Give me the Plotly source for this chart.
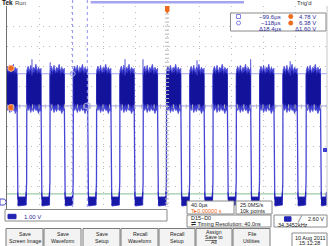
import numpy as np
import plotly.graph_objects as go

# ---------------- data ----------------
# time in microseconds (40 us/div, trigger at centre), voltage in volts (1.00 V/div)
rise_us = [-175.2, -146.1, -117.0, -87.9, -58.8, -29.6, -0.5, 28.6, 57.7, 86.8, 115.9, 145.0, 174.1]
fall_us = [-187.4, -157.4, -128.3, -99.2, -70.1, -41.0, -11.8, 17.3, 46.4, 75.5, 104.6, 133.7, 162.8, 191.9]

# noisy high-level envelope of one pulse (V), read at evenly spaced points across a pulse
band_top = [6.55, 6.75, 6.5, 6.8, 6.45, 6.7, 6.6, 6.85, 6.5, 6.7, 6.55, 6.65]
band_bot = [4.75, 4.55, 4.7, 4.45, 4.65, 4.5, 4.7, 4.55, 4.6, 4.4, 4.6, 4.5]
core_top = [6.35, 6.5, 6.3, 6.55, 6.35, 6.45, 6.4, 6.55, 6.3, 6.45, 6.4, 6.35]
core_bot = [4.95, 4.8, 4.9, 4.75, 4.85, 4.8, 4.9, 4.8, 4.85, 4.7, 4.85, 4.8]

spike_us = [-168.8, -146.0, -52.5, -30.0, 37.5, 104.6, 154.0]
spike_top_v = [7.1, 6.95, 7.1, 7.1, 7.05, 7.1, 7.0]

low_level_v = 0.15
green_ref_v = 0.4
cursor_t_us = [-99.6, -118.0]
cursor_v = [4.78, 6.38]
trig_level_v = 2.60

x_range = [-200, 200]
y_range = [-0.25, 9.75]

# ---------------- geometry helpers (pixel -> paper) ----------------
W, H = 328, 246
L, R, T, B = 7, 327, 6, 207


def PX(x):
    return (x - L) / (R - L)


def PY(y):
    return (B - y) / (B - T)


FONT = "Liberation Sans"
BLUE_TXT = "#2c2c9a"
ORANGE = "#ee6a1e"
LAV = "#a4a4f0"

fig = go.Figure()

# green reference line
fig.add_trace(go.Scatter(x=x_range, y=[green_ref_v, green_ref_v], mode="lines",
                         line=dict(color="#9ccaa8", width=1.2), hoverinfo="skip"))

highs = [(x_range[0], fall_us[0])] + list(zip(rise_us, fall_us[1:]))
lows = list(zip(fall_us, rise_us + [x_range[1]]))


def polys(top, bot):
    xs, ys = [], []
    for a, b in highs:
        n = len(top)
        t = list(np.linspace(a, b, n))
        xs += t + t[::-1] + [t[0], None]
        ys += list(top) + list(bot)[::-1] + [top[0], None]
    return xs, ys


# edges / U-shaped lows
ex, ey = [], []
for f, r in lows:
    ex += [f, f + 0.25, f + 1.0]
    ey += [core_bot[-1], 1.0, low_level_v]
    if r < x_range[1]:
        ex += [r - 1.0, r - 0.25, r]
        ey += [low_level_v, 1.0, core_top[0]]
    else:
        ex += [r]
        ey += [low_level_v]
    ex.append(None)
    ey.append(None)
fig.add_trace(go.Scatter(x=ex, y=ey, mode="lines", line=dict(color="#4646d4", width=1.3),
                         hoverinfo="skip"))

# dense bottoms of the lows
lx, ly = [], []
for f, r in lows:
    r2 = min(r - 0.7, x_range[1])
    lx += [f + 0.6, f + 1.4, r2 - 0.8, r2, r2, f + 1.4, f + 0.6, None]
    ly += [0.5, 0.25, 0.25, 0.5, -0.15, -0.2, -0.1, None]
fig.add_trace(go.Scatter(x=lx, y=ly, mode="lines", fill="toself", fillcolor="#1818a6",
                         line=dict(color="#2a2ac0", width=0.8), hoverinfo="skip"))

# high band outer and core
bx, by = polys(band_top, band_bot)
fig.add_trace(go.Scatter(x=bx, y=by, mode="lines", fill="toself", fillcolor="#3a3acc",
                         line=dict(color="#4c4cd8", width=0.8), hoverinfo="skip"))
cx, cy = polys(core_top, core_bot)
fig.add_trace(go.Scatter(x=cx, y=cy, mode="lines", fill="toself", fillcolor="#12129a",
                         line=dict(color="#1a1aa8", width=0.6), hoverinfo="skip"))

# spikes
sx, sy = [], []
for t, v in zip(spike_us, spike_top_v):
    sx += [t, t, None]
    sy += [6.3, v, None]
fig.add_trace(go.Scatter(x=sx, y=sy, mode="lines", line=dict(color="#5050d8", width=1),
                         hoverinfo="skip"))

# cursor intersection markers
fig.add_trace(go.Scatter(x=[cursor_t_us[1]], y=[cursor_v[1]], mode="markers",
                         marker=dict(symbol="circle-open", size=5, color=LAV, line=dict(width=1)),
                         hoverinfo="skip"))
fig.add_trace(go.Scatter(x=[cursor_t_us[0]], y=[cursor_v[0]], mode="markers",
                         marker=dict(symbol="square-open", size=5, color=LAV, line=dict(width=1)),
                         hoverinfo="skip"))
# orange cursor tags on the left
fig.add_trace(go.Scatter(x=[-195, -195], y=[6.65, 4.7], mode="markers",
                         marker=dict(symbol="circle", size=6, color=ORANGE,
                                     line=dict(color="#ffb080", width=1)),
                         hoverinfo="skip"))

# centre-cross minor ticks
mt_x = [x_range[0] + 8 * k for k in range(51)]
mt_y = [y_range[0] + 0.2 * k for k in range(51)]
fig.add_trace(go.Scatter(x=mt_x, y=[4.75] * len(mt_x), mode="markers",
                         marker=dict(symbol="line-ns", size=3, line=dict(color="#b8b8b8", width=1)),
                         hoverinfo="skip"))
fig.add_trace(go.Scatter(x=[0] * len(mt_y), y=mt_y, mode="markers",
                         marker=dict(symbol="line-ew", size=3, line=dict(color="#b8b8b8", width=1)),
                         hoverinfo="skip"))

shapes = []
for v in cursor_v:
    shapes.append(dict(type="line", xref="x", yref="y", x0=x_range[0], x1=x_range[1], y0=v, y1=v,
                       line=dict(color=LAV, width=1), layer="below"))
for t in cursor_t_us:
    shapes.append(dict(type="line", xref="x", yref="paper", x0=t, x1=t, y0=0, y1=PY(0),
                       line=dict(color="#9494ea", width=1, dash="dot")))
shapes.append(dict(type="line", xref="paper", yref="paper", x0=PX(6.5), x1=PX(6.5), y0=PY(212), y1=1,
                   line=dict(color="#6e6e6e", width=1)))
shapes.append(dict(type="line", xref="paper", yref="paper", x0=1, x1=1, y0=0, y1=1,
                   line=dict(color="#c8c8c8", width=1)))
shapes.append(dict(type="rect", xref="paper", yref="paper", x0=PX(90.7), x1=PX(244), y0=PY(3.5), y1=PY(1),
                   fillcolor=LAV, line=dict(width=0)))
shapes.append(dict(type="path", xref="paper", yref="paper",
                   path=f"M {PX(165)} {PY(6)} L {PX(169.5)} {PY(6)} L {PX(169.5)} {PY(11)} L {PX(167.2)} {PY(13.5)} L {PX(165)} {PY(11)} Z",
                   fillcolor=ORANGE, line=dict(width=0)))
shapes.append(dict(type="rect", xref="paper", yref="paper", x0=PX(323), x1=PX(327), y0=PY(152), y1=PY(148),
                   fillcolor="#3c3cd0", line=dict(width=0)))
shapes.append(dict(type="path", xref="paper", yref="paper",
                   path=f"M {PX(0)} {PY(199)} L {PX(4.5)} {PY(199)} L {PX(6.5)} {PY(202)} L {PX(4.5)} {PY(205)} L {PX(0)} {PY(205)} Z",
                   fillcolor="white", line=dict(color="#4a4ac8", width=1)))

shapes.append(dict(type="rect", xref="paper", yref="paper", x0=PX(230.5), x1=PX(326), y0=PY(31), y1=PY(13),
                   fillcolor="white", line=dict(color="#8a8a8a", width=1)))
shapes.append(dict(type="rect", xref="paper", yref="paper", x0=PX(236.5), x1=PX(240.5), y0=PY(18.5), y1=PY(14.5),
                   line=dict(color="#8080e0", width=1)))
shapes.append(dict(type="circle", xref="paper", yref="paper", x0=PX(236.5), x1=PX(240.5), y0=PY(25), y1=PY(21),
                   line=dict(color="#8080e0", width=1)))
for yy in (16.5, 23):
    shapes.append(dict(type="circle", xref="paper", yref="paper", x0=PX(288.5), x1=PX(293), y0=PY(yy + 2.2),
                       y1=PY(yy - 2.2), fillcolor=ORANGE, line=dict(color=ORANGE, width=0.5)))


def box(x0, x1, y0, y1, fill="white", col="#8a8a8a"):
    shapes.append(dict(type="rect", xref="paper", yref="paper", x0=PX(x0), x1=PX(x1), y0=PY(y1), y1=PY(y0),
                       fillcolor=fill, line=dict(color=col, width=1)))


box(5, 167, 209.5, 221)
box(187, 234, 201, 214)
box(236, 272, 201, 214)
box(187, 271, 215, 227)
box(274, 327, 215, 227)
box(292, 327, 233, 247)

buttons = [("Save", "Screen Image", 6, 43), ("Save", "Waveform", 44, 81), ("Save", "Setup", 83, 120),
           ("Recall", "Waveform", 121, 158), ("Recall", "Setup", 159, 195),
           ("Assign", "Save to|All", 196, 232), ("File", "Utilities", 233, 270)]
for a, b, x0, x1 in buttons:
    box(x0, x1, 228.5, 248, fill="#f3f3f3", col="#7a7a7a")

for x0, x1, yy in ((8, 16, 216.5), (284.5, 291, 219)):
    shapes.append(dict(type="rect", xref="paper", yref="paper", x0=PX(x0), x1=PX(x1), y0=PY(yy + 2.2),
                       y1=PY(yy - 2.2), fillcolor="#2323b4", line=dict(color="#2323b4", width=1)))

ann = []


def txt(x, y, s, size=5.5, color="#222222", anchor="left", bold=False):
    ann.append(dict(x=PX(x), y=PY(y), xref="paper", yref="paper", text=("<b>%s</b>" % s) if bold else s,
                    showarrow=False, xanchor=anchor, yanchor="middle",
                    font=dict(family=FONT, size=size, color=color)))


txt(0, 3, "Tek", 6.5, "#111111", bold=True)
txt(12.5, 3, "Run", 6, "#444444")
txt(295, 3, "Trig'd", 6, "#333333")

txt(282.5, 16.5, "\u221299.6\u00b5s", 6, BLUE_TXT, "right")
txt(282.5, 23, "\u2212118\u00b5s", 6, BLUE_TXT, "right")
txt(282.5, 28.8, "\u039418.4\u00b5s", 6, BLUE_TXT, "right")
txt(318, 16.5, "4.78 V", 6, BLUE_TXT, "right")
txt(318, 23, "6.38 V", 6, BLUE_TXT, "right")
txt(318, 28.8, "\u03941.60 V", 6, BLUE_TXT, "right")

txt(22, 216.5, "1.00 V", 6, BLUE_TXT)
txt(189, 205, "40.0\u00b5s", 5.5)
txt(189, 210.5, "T\u25b80.00000 s", 5.5, ORANGE)
txt(238, 205, "25.0MS/s", 5.5)
txt(238, 210.5, "10k points", 5.5)
txt(189, 218.5, "D15\u2013D0", 5.5)
txt(189, 224, "\u21cc Timing Resolution: 40.0ns", 5.5)
txt(299, 219, "\u2571", 5.5, "#222222", "center")
txt(325.5, 219, "2.60 V", 5.5, "#222222", "right")
txt(276, 224.5, "34.3452kHz", 5.5)
txt(309.5, 237.5, "10 Aug 2011", 5.5, "#222222", "center")
txt(309.5, 243, "15:12:28", 5.5, "#222222", "center")

for a, b, x0, x1 in buttons:
    xc = (x0 + x1) / 2
    if "|" in b:
        b1, b2 = b.split("|")
        txt(xc, 232, a, 5.2, "#222222", "center")
        txt(xc, 237.2, "<u>Save</u> to", 5.2, "#222222", "center")
        txt(xc, 242.2, b2, 5.2, "#222222", "center")
    else:
        txt(xc, 234, a, 5.2, "#222222", "center")
        txt(xc, 240.8, b, 5.2, "#222222", "center")

fig.update_layout(
    width=W, height=H,
    margin=dict(l=L, r=W - R, t=T, b=H - B),
    paper_bgcolor="white", plot_bgcolor="white",
    showlegend=False,
    shapes=shapes, annotations=ann,
    xaxis=dict(range=x_range, dtick=40, tick0=-200, showticklabels=False, ticks="", zeroline=False,
               showgrid=True, gridcolor="#bcbcbc", gridwidth=1, griddash="1px,5px", fixedrange=True),
    yaxis=dict(range=y_range, dtick=1, tick0=-0.25, showticklabels=False, ticks="", zeroline=False,
               showgrid=True, gridcolor="#bcbcbc", gridwidth=1, griddash="1px,5px", fixedrange=True),
)

fig.write_html("out.html")
